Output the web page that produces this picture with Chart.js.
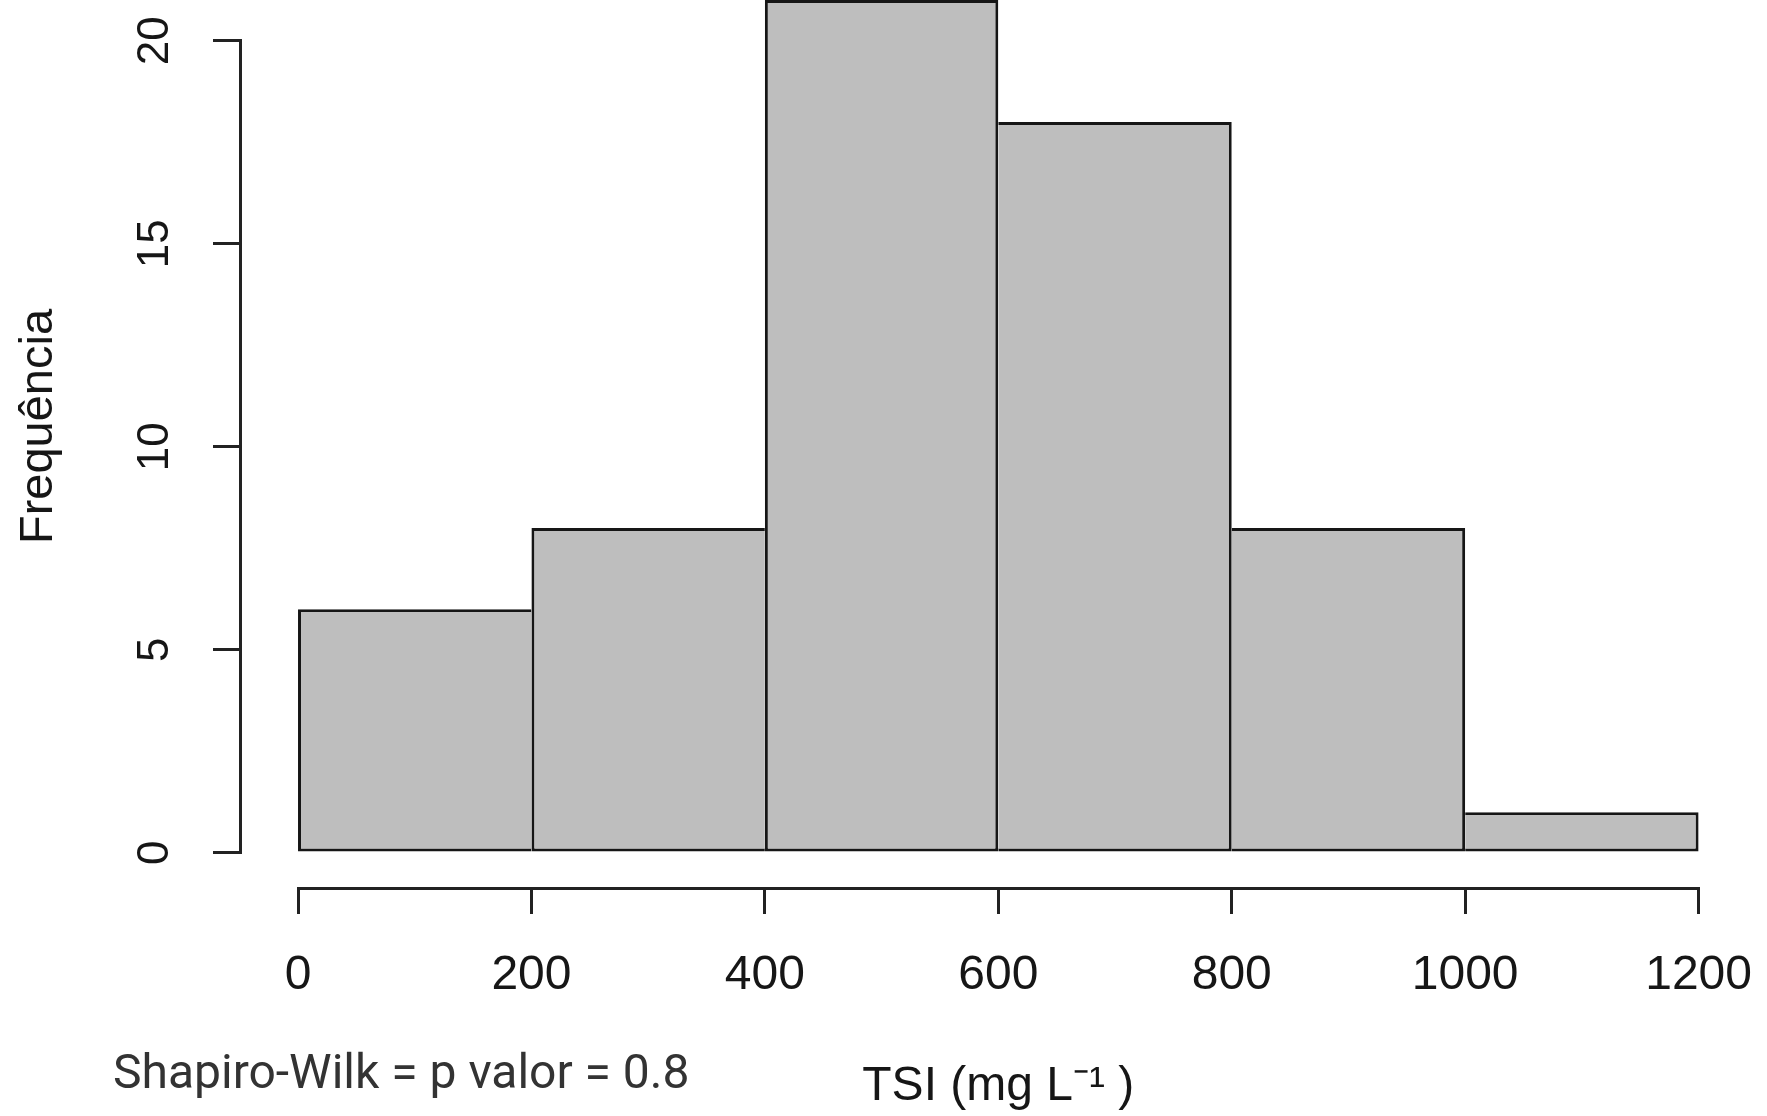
<!DOCTYPE html>
<html>
<head>
<meta charset="utf-8">
<script src="https://cdn.jsdelivr.net/npm/chart.js@4.4.1/dist/chart.umd.min.js"></script>
<style>
html, body { margin: 0; padding: 0; background: #fff; overflow: hidden; width: 1767px; height: 1116px; }
#wrap { position: absolute; left: 0; top: -34px; width: 1767px; height: 1150px; }
#note { position: absolute; left: 113px; top: 1048px; font-family: Roboto, "Liberation Sans", sans-serif; font-size: 48px; line-height: 48px; color: #333; white-space: nowrap; }
</style>
</head>
<body>
<div id="wrap"><canvas id="c"></canvas></div>
<div id="note"></div>
<script>
// ---- data ----
const breaks = [0, 200, 400, 600, 800, 1000, 1200];
const counts = [6, 8, 21, 18, 8, 1];
const xTicks = [0, 200, 400, 600, 800, 1000, 1200];
const yTicks = [0, 5, 10, 15, 20];
const xTitle = 'TSI (mg L\u207B\u00B9 )';
const yTitle = 'Frequência';
const noteText = 'Shapiro-Wilk = p valor = 0.8';

document.getElementById('note').textContent = noteText;

function fontAvailable(name) {
  const ctx = document.createElement('canvas').getContext('2d');
  const s = '1200 Frequência';
  ctx.font = '50px monospace';
  const a = ctx.measureText(s).width;
  ctx.font = '50px "' + name + '", monospace';
  const b = ctx.measureText(s).width;
  return Math.abs(a - b) > 0.5;
}
const narrow = fontAvailable('Liberation Sans Narrow');
const REG = '"Liberation Sans", Arial, sans-serif';
const NAR = '"Liberation Sans Narrow", "Liberation Sans", Arial, sans-serif';

const yTickFont = narrow ? {family: NAR, size: 52} : {family: REG, size: 44};
const yTickPad = narrow ? 34.3 : 32.5;
const yTitleFont = narrow ? {family: NAR, size: 53} : {family: REG, size: 47};
const yTitlePad = narrow ? 4.8 : 10.5;
const xTitleFont = narrow ? {family: NAR, size: 55} : {family: REG, size: 48};
const xTitlePad = narrow ? -1 : 0.2;
const xTickFont = {family: REG, size: 48};

// R-style axis extension (4%)
const xMin = breaks[0] - (breaks[breaks.length - 1] - breaks[0]) * 0.04;
const xMax = breaks[breaks.length - 1] + (breaks[breaks.length - 1] - breaks[0]) * 0.04;
const yTop = Math.max(...counts);
const yMin = -yTop * 0.04;
const yMax = yTop * 1.04;

const LW = 3;
const INK = '#161616';

function alignPx(p, w) { return Math.round(p - w / 2) + w / 2; }

const axisLines = {
  id: 'axisLines',
  afterDatasetsDraw(chart) {
    const {ctx, chartArea, scales: {x, y}} = chart;
    ctx.save();
    ctx.strokeStyle = '#222';
    ctx.lineWidth = LW;
    ctx.lineCap = 'butt';
    const y0 = alignPx(y.getPixelForValue(yTicks[0]), LW);
    const y1 = alignPx(y.getPixelForValue(yTicks[yTicks.length - 1]), LW);
    ctx.beginPath();
    ctx.moveTo(chartArea.left - LW / 2, y1 - LW / 2);
    ctx.lineTo(chartArea.left - LW / 2, y0 + LW / 2);
    ctx.stroke();
    const ay = chartArea.bottom + LW / 2;
    const x0 = alignPx(x.getPixelForValue(xTicks[0]), LW);
    const x1 = alignPx(x.getPixelForValue(xTicks[xTicks.length - 1]), LW);
    ctx.beginPath();
    ctx.moveTo(x0 - LW / 2, ay);
    ctx.lineTo(x1 + LW / 2, ay);
    ctx.stroke();
    ctx.restore();
  }
};

new Chart(document.getElementById('c'), {
  type: 'bar',
  data: {
    datasets: [{
      data: counts.map((c, i) => ({x: (breaks[i] + breaks[i + 1]) / 2, y: c})),
      backgroundColor: '#bebebe',
      borderColor: INK,
      borderSkipped: false,
      borderWidth: (ctx) => {
        const i = ctx.dataIndex;
        const prev = i > 0 ? counts[i - 1] : -1;
        const next = i < counts.length - 1 ? counts[i + 1] : -1;
        return {top: LW, bottom: LW, left: prev <= counts[i] ? LW : 0, right: next < counts[i] ? LW : 0};
      },
      inflateAmount: 0,
      barPercentage: 1,
      categoryPercentage: 1
    }]
  },
  options: {
    responsive: true,
    maintainAspectRatio: false,
    animation: false,
    devicePixelRatio: 1,
    layout: {padding: {left: 0, right: 12.4, top: 0, bottom: 0}},
    plugins: {legend: {display: false}, tooltip: {enabled: false}},
    scales: {
      x: {
        type: 'linear',
        min: xMin,
        max: xMax,
        offset: false,
        afterBuildTicks: s => { s.ticks = xTicks.map(v => ({value: v})); },
        afterFit: s => { s.height = 229; s.paddingLeft = 0; s.paddingRight = 0; s.paddingTop = 0; s.paddingBottom = 0; },
        grid: {display: true, offset: false, drawOnChartArea: false, drawTicks: true, tickLength: 27, color: '#222', lineWidth: LW},
        border: {display: false},
        ticks: {autoSkip: false, maxRotation: 0, minRotation: 0, padding: 33.2, color: INK, font: xTickFont, callback: v => String(v)},
        title: {display: true, text: xTitle, color: INK, font: xTitleFont, padding: {top: 0, bottom: xTitlePad}}
      },
      y: {
        type: 'linear',
        min: yMin,
        max: yMax,
        afterBuildTicks: s => { s.ticks = yTicks.map(v => ({value: v})); },
        afterFit: s => { s.width = 242; s.paddingLeft = 0; s.paddingRight = 0; s.paddingTop = 0; s.paddingBottom = 0; },
        grid: {display: true, offset: false, drawOnChartArea: false, drawTicks: true, tickLength: 29, color: '#222', lineWidth: LW},
        border: {display: false},
        ticks: {minRotation: 90, maxRotation: 90, crossAlign: 'center', padding: yTickPad, color: INK, font: yTickFont, callback: v => String(v)},
        title: {display: true, text: yTitle, color: INK, font: yTitleFont, padding: {top: yTitlePad, bottom: 0}}
      }
    }
  },
  plugins: [axisLines]
});
</script>
</body>
</html>
